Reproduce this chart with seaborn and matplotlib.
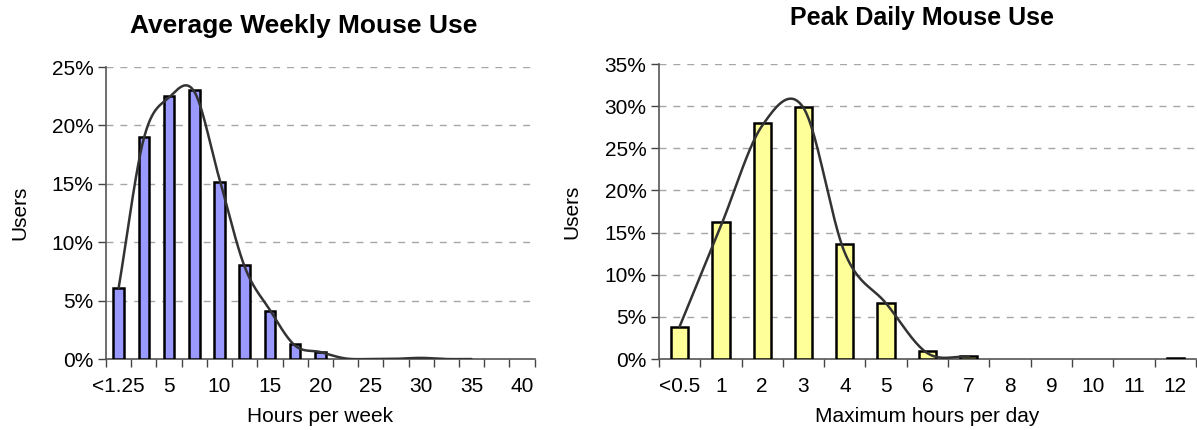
import numpy as np
import pandas as pd
import matplotlib
matplotlib.use("Agg")
import matplotlib.pyplot as plt
import seaborn as sns
from matplotlib.ticker import FixedLocator, PercentFormatter

# -------------------------------------
# DATA (percent of users)
# -------------------------------------
week_cats = ["<1.25", "2.5", "5", "7.5", "10", "12.5", "15", "17.5", "20",
             "22.5", "25", "27.5", "30", "32.5", "35", "37.5", "40"]
week_bars = [6.1, 19.0, 22.5, 23.0, 15.2, 8.05, 4.1, 1.25, 0.62,
             None, None, None, 0.1, None, None, None, None]
week_curve = [6.1, 18.9, 22.4, 22.9, 15.4, 7.9, 4.2, 1.15, 0.6,
              0.05, 0.0, 0.02, 0.1, 0.0, 0.0]
week_ticklabels = ["<1.25", "", "5", "", "10", "", "15", "", "20",
                   "", "25", "", "30", "", "35", "", "40"]

day_cats = ["<0.5", "1", "2", "3", "4", "5", "6", "7", "8", "9", "10", "11", "12"]
day_bars = [3.85, 16.3, 28.05, 29.95, 13.6, 6.7, 0.95, 0.35,
            None, None, None, None, 0.15]
day_curve = [3.85, 15.8, 27.7, 29.8, 12.6, 6.6, 0.7, 0.3]


def smooth(vals, n=40):
    # Catmull-Rom style smoothing, like a spreadsheet "smoothed line"
    p = np.array(vals, dtype=float)
    pts = np.concatenate([[2 * p[0] - p[1]], p, [2 * p[-1] - p[-2]]])
    xs, ys = [], []
    for i in range(len(p) - 1):
        p0, p1, p2, p3 = pts[i], pts[i + 1], pts[i + 2], pts[i + 3]
        t = np.linspace(0, 1, n, endpoint=False)
        m1 = (p2 - p0) / 2
        m2 = (p3 - p1) / 2
        y = ((2 * t**3 - 3 * t**2 + 1) * p1 + (t**3 - 2 * t**2 + t) * m1
             + (-2 * t**3 + 3 * t**2) * p2 + (t**3 - t**2) * m2)
        xs.append(i + t)
        ys.append(y)
    xs.append([len(p) - 1])
    ys.append([p[-1]])
    return np.concatenate(xs), np.concatenate(ys)


sns.set_style("white")
plt.rcParams["font.family"] = ["Liberation Sans", "DejaVu Sans"]
plt.rcParams["text.color"] = "black"
plt.rcParams["axes.labelcolor"] = "black"
plt.rcParams["xtick.color"] = "black"
plt.rcParams["ytick.color"] = "black"

fig = plt.figure(figsize=(11.97, 4.30), dpi=100)
ax1 = fig.add_axes([0.0886, 0.165, 0.358, 0.679])
ax2 = fig.add_axes([0.5505, 0.165, 0.4486, 0.686])


def draw(ax, cats, bars, curve, color, ymax, ticklabels, xlabel):
    df = pd.DataFrame({"cat": cats, "val": bars}).dropna()
    sns.barplot(data=df, x="cat", y="val", order=cats, color=color,
                saturation=1, edgecolor="black", linewidth=1.8,
                width=0.42, ax=ax, zorder=3)
    sx, sy = smooth(curve)
    ax.plot(sx, sy, color="#333333", lw=1.8, zorder=4, solid_capstyle="round")

    ax.set_xlim(-0.5, len(cats) - 0.5)
    ax.set_ylim(0, ymax)
    ax.set_yticks(np.arange(0, ymax + 0.1, 5))
    ax.yaxis.set_major_formatter(PercentFormatter(decimals=0))
    ax.set_xticks(range(len(cats)))
    ax.set_xticklabels(ticklabels)
    ax.xaxis.set_minor_locator(FixedLocator(np.arange(-0.5, len(cats), 1)))
    ax.tick_params(axis="x", which="major", length=0, pad=13, labelsize=15,
                   labelcolor="black")
    ax.tick_params(axis="x", which="minor", length=6, width=1, color="#444444",
                   bottom=True)
    ax.tick_params(axis="y", length=6, width=1, color="#444444",
                   labelsize=15, pad=3, left=True, labelcolor="black")

    for yv in np.arange(5, ymax + 0.1, 5):
        ax.axhline(yv, color="#a6a6a6", lw=1, ls=(0, (5, 5)), zorder=1)

    for side in ["top", "right"]:
        ax.spines[side].set_visible(False)
    for side in ["left", "bottom"]:
        ax.spines[side].set_color("#555555")
        ax.spines[side].set_linewidth(1.2)

    ax.set_xlabel(xlabel, fontsize=15, color="black")
    ax.set_ylabel("Users", fontsize=15, color="black")


# -------------------------------------
# LEFT: AVERAGE WEEKLY
# -------------------------------------
draw(ax1, week_cats, week_bars, week_curve, "#9999ff", 25,
     week_ticklabels, "Hours per week")
ax1.xaxis.set_label_coords(0.5, -0.165)
ax1.yaxis.set_label_coords(-0.18, 0.5)

# -------------------------------------
# RIGHT: PEAK DAILY
# -------------------------------------
draw(ax2, day_cats, day_bars, day_curve, "#ffff99", 35,
     day_cats, "Maximum hours per day")
ax2.xaxis.set_label_coords(0.5, -0.163)
ax2.yaxis.set_label_coords(-0.145, 0.5)

fig.text(304 / 1197, 1 - 26 / 430, "Average Weekly Mouse Use",
         ha="center", va="center", fontsize=19, fontweight="bold",
         color="black")
fig.text(922 / 1197, 1 - 18 / 430, "Peak Daily Mouse Use",
         ha="center", va="center", fontsize=18, fontweight="bold",
         color="black")

fig.savefig("out.png", dpi=100)
